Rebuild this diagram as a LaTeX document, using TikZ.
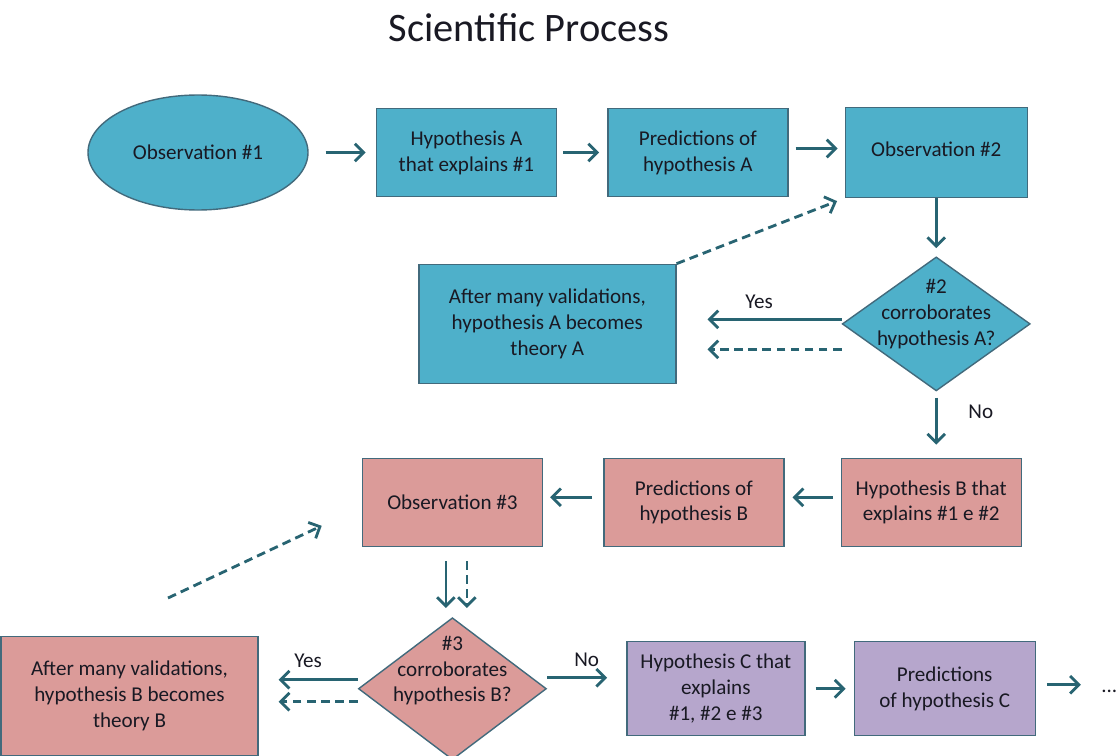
\documentclass[tikz,border=0pt]{standalone}
\usepackage{fontspec}
\setmainfont{Carlito}
\definecolor{AquaFill}{RGB}{78, 176, 202}
\definecolor{RoseFill}{RGB}{219, 155, 153}
\definecolor{LilacFill}{RGB}{182, 166, 204}
\definecolor{BoxLine}{RGB}{66, 106, 124}
\definecolor{ArrowTeal}{RGB}{40, 100, 114}
\definecolor{TextDark}{RGB}{25, 25, 35}
\usetikzlibrary{arrows.meta, positioning, shapes.geometric, calc}

\begin{document}
\begin{tikzpicture}[every node/.style={font=\fontsize{12}{14.7}\selectfont, text=TextDark},
    box/.style={draw=BoxLine, line width=0.8pt, rectangle, align=center, inner sep=2pt, minimum width=3.6cm, minimum height=1.76cm},
    bluebox/.style={box, fill=AquaFill},
    rosebox/.style={box, fill=RoseFill},
    lilacbox/.style={box, fill=LilacFill, minimum height=1.88cm},
    theorybox/.style={minimum width=5.14cm, minimum height=2.38cm},
    decision/.style={draw=BoxLine, line width=0.8pt, diamond, inner sep=0pt, minimum width=3.76cm},
    flow/.style={draw=ArrowTeal, line width=1.6pt, -{Straight Barb[length=5pt,width=10pt]}},
    loop/.style={flow, dash pattern=on 5pt off 3pt}]
    \useasboundingbox (0,0) rectangle (22.38,-15.1);

    \node[font=\fontsize{23}{28}\selectfont] (title) at (10.58,-0.56) {Scientific Process};

    % first hypothesis
    \node[draw=BoxLine, line width=0.8pt, ellipse, fill=AquaFill, minimum width=4.4cm, minimum height=2.3cm] (obs1) at (3.96,-3.05) {Observation \#1};
    \node[bluebox, right=1.34cm of obs1] (hypA) {Hypothesis A\\that explains \#1};
    \node[bluebox, right=1.0cm of hypA] (predA) {Predictions of\\hypothesis A};
    \node[bluebox, minimum width=3.64cm, minimum height=1.8cm, right=1.12cm of predA] (obs2) {\raisebox{0.12cm}{Observation \#2}};
    \node[decision, fill=AquaFill, minimum height=2.68cm, below=1.16cm of obs2,
        label={[name=dec2txt, align=center, yshift=0.2cm]center:{\#2\\corroborates\\hypothesis A?}}] (dec2) {};
    \node[bluebox, theorybox, left=3.3cm of dec2] (thA) {After many validations,\\hypothesis A becomes\\theory A};

    % second hypothesis
    \node[rosebox, below=1.32cm of dec2, xshift=-0.1cm] (hypB) {Hypothesis B that\\explains \#1 e \#2};
    \node[rosebox, left=1.12cm of hypB] (predB) {Predictions of\\hypothesis B};
    \node[rosebox, left=1.2cm of predB] (obs3) {Observation \#3};
    \node[decision, fill=RoseFill, minimum height=2.84cm, below=1.4cm of obs3,
        label={[name=dec3txt, align=center, yshift=0.36cm]center:{\#3\\corroborates\\hypothesis B?}}] (dec3) {};
    \node[rosebox, theorybox, left=1.98cm of dec3, yshift=-0.14cm] (thB) {After many validations,\\hypothesis B becomes\\theory B};

    % third hypothesis
    \node[lilacbox, minimum width=3.56cm, right=1.58cm of dec3] (hypC) {Hypothesis C that\\explains\\\#1, \#2 e \#3};
    \node[lilacbox, minimum width=3.62cm, right=0.96cm of hypC] (predC) {Predictions\\of hypothesis C};
    \node[inner sep=0pt, right=1.3cm of predC, yshift=-0.06cm] (more) {...};
    \coordinate (backB) at (3.36,-11.96);

    \draw[flow, shorten <=0.34cm, shorten >=0.2cm] (obs1.east) -- (hypA.west);
    \draw[flow, shorten <=0.12cm, shorten >=0.16cm] (hypA) -- (predA);
    \draw[flow, shorten <=0.14cm, shorten >=0.14cm] ([yshift=0.08cm]predA.east) -- ([yshift=0.08cm]obs2.west);
    \draw[flow, shorten >=0.16cm] (obs2.south -| dec2) -- (dec2.north);
    \draw[flow, shorten >=0.62cm] ([yshift=0.09cm]dec2.west) -- ([yshift=0.09cm]dec2.west -| thA.east) node[midway, above=2pt] {Yes};
    \draw[loop, shorten >=0.62cm] ([yshift=-0.51cm]dec2.west) -- ([yshift=-0.51cm]dec2.west -| thA.east);
    \draw[loop, shorten >=0.16cm] (thA.north east) -- (obs2.south west);
    \draw[flow, shorten <=0.12cm, shorten >=0.26cm] (dec2.south) -- (dec2.south |- hypB.north) node[pos=0.3, right=0.5cm] {No};

    \draw[flow, shorten <=0.16cm, shorten >=0.16cm] ([yshift=0.1cm]hypB.west) -- ([yshift=0.1cm]predB.east);
    \draw[flow, shorten <=0.22cm, shorten >=0.14cm] ([yshift=0.1cm]predB.west) -- ([yshift=0.1cm]obs3.east);
    \draw[loop] (backB) -- ([xshift=-0.8cm, yshift=-0.47cm]obs3.west);
    \draw[flow, shorten <=0.28cm, shorten >=0.18cm] ([xshift=-0.13cm]obs3.south) -- ([xshift=-0.13cm]obs3.south |- dec3.north);
    \draw[loop, shorten <=0.28cm, shorten >=0.18cm] ([xshift=0.29cm]obs3.south) -- ([xshift=0.29cm]obs3.south |- dec3.north);
    \draw[flow, shorten >=0.4cm] ([yshift=0.18cm]dec3.west) -- ([yshift=0.18cm]dec3.west -| thB.east) node[midway, above=3pt] {Yes};
    \draw[loop, shorten >=0.4cm] ([yshift=-0.26cm]dec3.west) -- ([yshift=-0.26cm]dec3.west -| thB.east);
    \draw[flow, shorten >=0.38cm] ([yshift=0.22cm]dec3.east) -- ([yshift=0.22cm]dec3.east -| hypC.west) node[midway, above=2pt] {No};

    \draw[flow, shorten <=0.2cm, shorten >=0.16cm] (hypC) -- (predC);
    \draw[flow, shorten <=0.22cm, shorten >=0.4cm] ([yshift=0.08cm]predC.east) -- ([yshift=0.08cm]predC.east -| more.west);
\end{tikzpicture}
\end{document}
